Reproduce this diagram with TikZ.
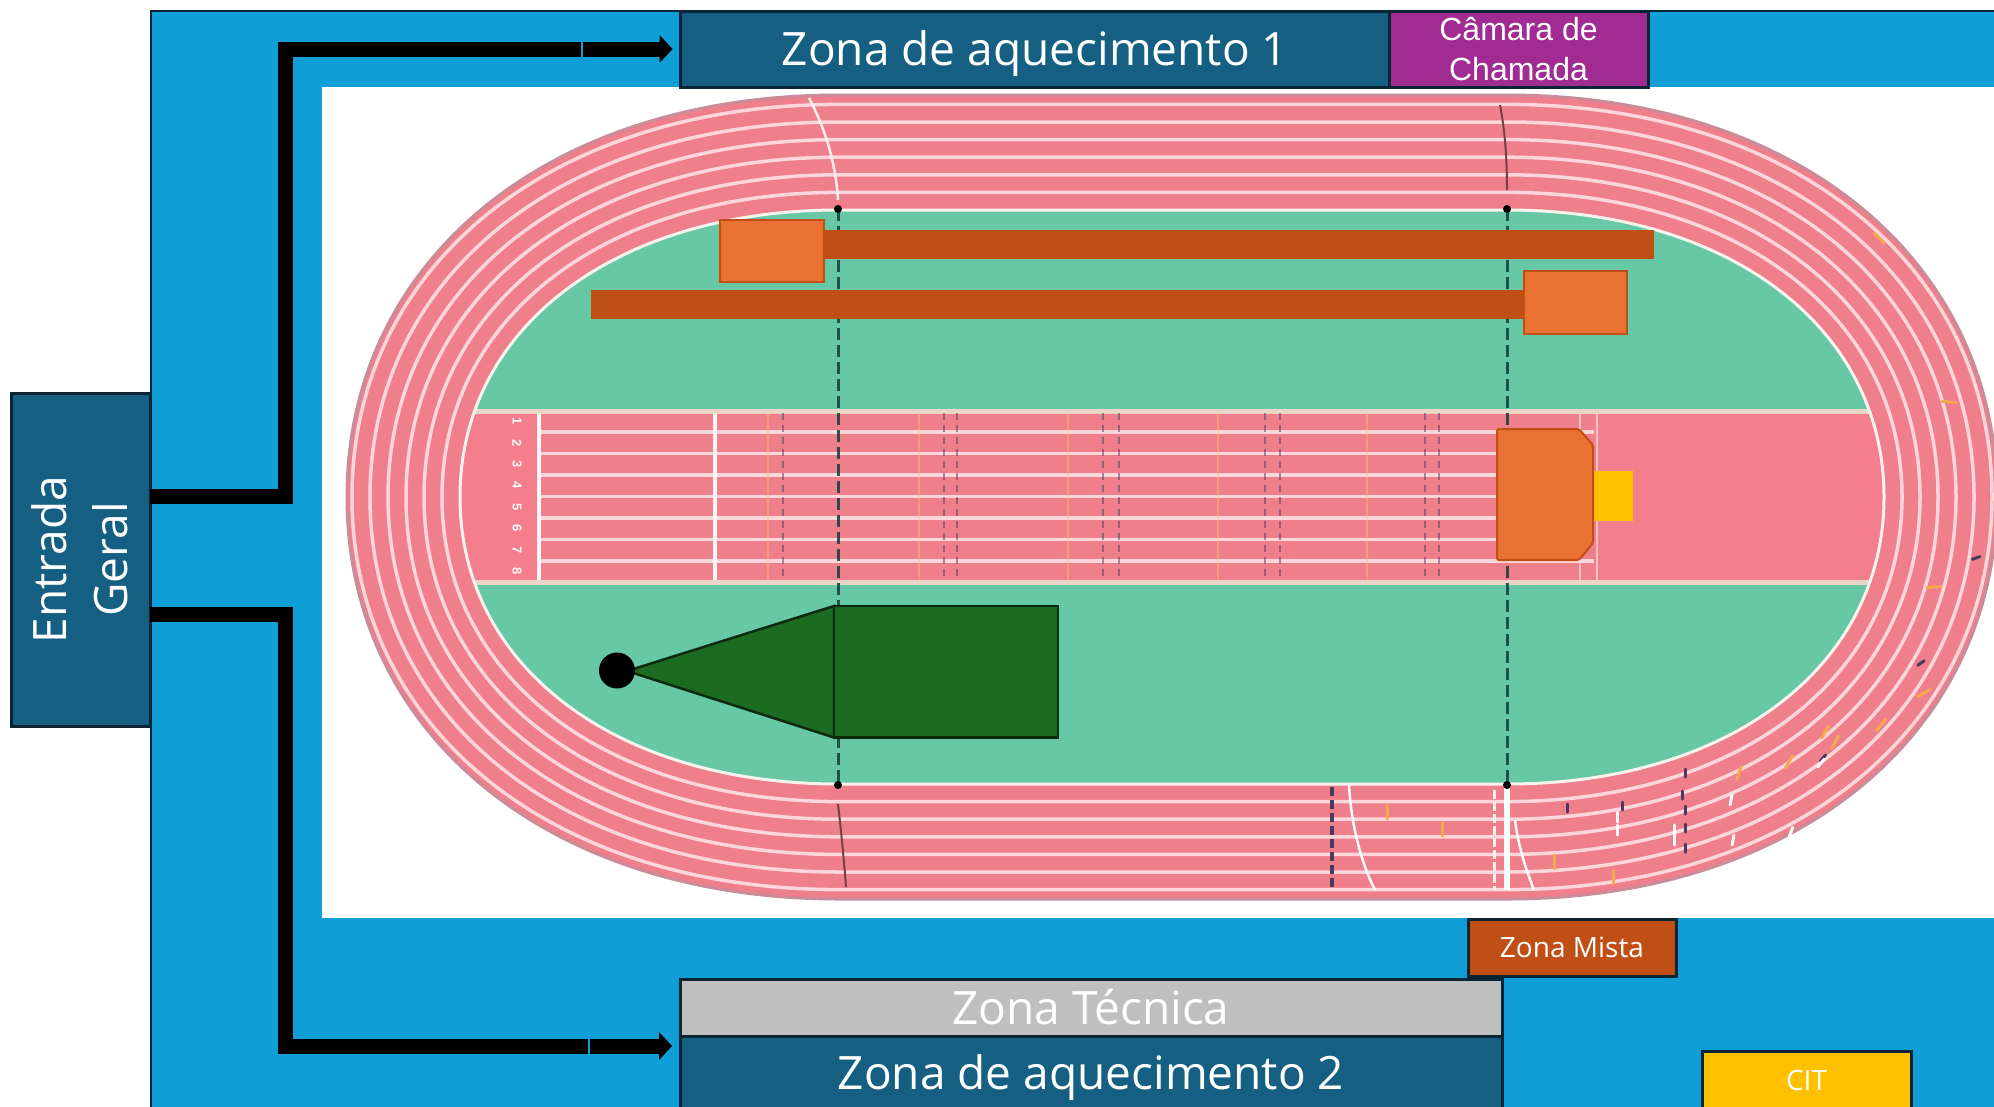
\documentclass[tikz,border=0pt]{standalone}
\usepackage{fontspec}
\setmainfont{Open Sans}
\newfontfamily\arialfont{Liberation Sans}
\usetikzlibrary{arrows.meta}
\newcommand{\trackpath}[2]{(839,{-497+(#2)}) -- (1507,{-497+(#2)})
  .. controls ({1507+.59*((#1)-2)},{-497+(#2)}) and ({1505+(#1)},{-497+.59*(#2)}) .. ({1505+(#1)},-497)
  .. controls ({1505+(#1)},{-497-.59*(#2)}) and ({1507+.59*((#1)-2)},{-497-(#2)}) .. (1507,{-497-(#2)})
  -- (839,{-497-(#2)})
  .. controls ({839-.59*(#1)},{-497-(#2)}) and ({839-(#1)},{-497-.59*(#2)}) .. ({839-(#1)},-497)
  .. controls ({839-(#1)},{-497+.59*(#2)}) and ({839-.59*(#1)},{-497+(#2)}) .. (839,{-497+(#2)}) -- cycle}
\tikzset{
  zonebox/.style={draw=zoneline, line width=3pt, text=white, outer sep=0pt, inner sep=0pt, align=center},
  zonetext/.style={text height=40pt, text depth=8pt, font=\fontsize{46}{54}\selectfont},
  pipe/.style={draw=black, line width=15pt},
  pipetip/.style={draw=black, line width=15pt, -{Triangle[length=13pt,width=28pt,line width=0pt]}, shorten >=8pt},
  laneline/.style={draw=laneline, line width=3.5pt},
  finishmark/.style={draw=markdark, line width=2.5pt, dash pattern=on 7pt off 5pt, opacity=.5},
  splitmark/.style={draw=splitorange, line width=2.5pt, opacity=.4},
  centremark/.style={draw=centreline, line width=3pt, dash pattern=on 12pt off 5pt, opacity=.85},
  blockbox/.style={fill=blockorange, draw=barorange, line width=2pt},
  barbox/.style={fill=barorange, draw=barorange, line width=1pt},
  fieldbox/.style={fill=fieldgreen, draw=fieldgreen!40!black, line width=2.5pt},
  tick/.style={line width=3pt, line cap=round}
}
\begin{document}
\begin{tikzpicture}[x=1pt,y=1pt]
\definecolor{zoneline}{HTML}{0A2433}
\definecolor{venueblue}{HTML}{0F9ED5}
\definecolor{zoneteal}{HTML}{156082}
\definecolor{trackpink}{HTML}{EE7F8B}
\definecolor{bandpink}{HTML}{F47E8C}
\definecolor{laneline}{HTML}{FCD6D8}
\definecolor{trackedge}{HTML}{C98C98}
\definecolor{grassgreen}{HTML}{66C8A5}
\definecolor{bandedge}{HTML}{EAD6C6}
\definecolor{markdark}{HTML}{4A3A60}
\definecolor{splitorange}{HTML}{F9C56A}
\definecolor{centreline}{HTML}{0C3F3C}
\definecolor{blockorange}{HTML}{E97132}
\definecolor{barorange}{HTML}{C04F15}
\definecolor{fieldgreen}{HTML}{1B6B22}
\definecolor{yellowbox}{HTML}{FFC000}
\definecolor{purplebox}{HTML}{A02B93}
\definecolor{grayzone}{HTML}{BFBFBF}
\definecolor{tickorange}{HTML}{F5A94E}
\useasboundingbox (0,-1106) rectangle (1994,0);
\fill[white] (0,-1106) rectangle (1994,0);
\fill[venueblue, draw=zoneline, line width=2.5pt] (151,-1108) -- (151,-11) -- (1996,-11) -- (1996,-1108) -- cycle;
\fill[white] (321.5,-918) rectangle (1996,-86.5);
\begin{scope}
\clip (321.5,-918) rectangle (1994,-86.5);
\fill[trackpink, draw=trackedge, line width=3pt] \trackpath{492}{402};
\foreach \k in {1,...,6}
  \draw[laneline] \trackpath{379+18*\k}{287+17.6*\k};
\fill[grassgreen] \trackpath{379}{287};
\begin{scope}
\clip \trackpath{379}{287};
\fill[bandpink] (460,-411) rectangle (1890,-582);
\fill[trackpink] (539,-411) rectangle (1594,-582);
\foreach \y in {432,453.5,475,496.5,518,539.5,561}
  \draw[laneline] (539,-\y) -- (1594,-\y);
\draw[line width=5pt, draw=bandedge] (460,-411) -- (1890,-411) (460,-582) -- (1890,-582);
\end{scope}
\draw[draw=white!70!bandedge, line width=3pt] \trackpath{379}{287};
\end{scope}
\draw[white!80!laneline, line width=4pt] (539,-413) -- (539,-580);
\draw[white!80!laneline, line width=4pt] (715,-413) -- (715,-580);
\foreach \d [count=\i] in {1,...,8}
  \node[text=white!80!laneline, font=\arialfont\bfseries\fontsize{13}{13}\selectfont, rotate=-90, inner sep=0pt] (lane\d) at (517,{-400-21.4*\i}) {\d};
\foreach \x in {768,919,1068,1218,1367}
  \draw[splitmark] (\x,-413) -- (\x,-580);
\foreach \x in {783,944,957,1103,1119,1265,1280,1425,1439}
  \draw[finishmark] (\x,-413) -- (\x,-580);
\draw[laneline, line width=2pt, draw opacity=.8] (1580,-413) -- (1580,-580) (1597,-413) -- (1597,-580);
\draw[white!60!laneline, line width=2.5pt] (809,-98) .. controls (826,-130) and (836,-165) .. (838,-200);
\draw[black!50!trackpink, line width=2pt] (1500,-105) .. controls (1505,-130) and (1507,-160) .. (1507,-190);
\draw[black!50!trackpink, line width=2pt] (838,-804) .. controls (841,-830) and (844,-860) .. (846,-887);
\draw[markdark, line width=3.5pt, dash pattern=on 9pt off 4pt] (1332,-787) -- (1332,-888);
\draw[white!90!laneline, line width=2.5pt] (1349,-785) .. controls (1351,-825) and (1362,-865) .. (1375,-890);
\draw[white!90!laneline, line width=2.5pt] (1515,-820) .. controls (1518,-845) and (1526,-870) .. (1534,-890);
\draw[white, line width=6pt] (1507,-787) -- (1507,-890);
\draw[white!60!laneline, line width=3pt, dash pattern=on 9pt off 3pt] (1494,-790) -- (1494,-890);
\foreach \x/\y/\a in {1387/812/90,1442/829/90,1554/862/90,1613/877/90,1739/773/70,1789/762/60,1825/732/60,1835/742/60,1881/725/50,1879/238/-45,1949/402/-5,1934/587/5,1924/693/30}
  \draw[tick, tickorange] (\x,-\y) ++(\a:7) -- ++(\a+180:14);
\foreach \x/\y/\a in {1685/773/90,1682/795/90,1567/808/90,1622/806/90,1685/810/90,1685/828/90,1685/848/90,1823/758/50,1976/558/20,1921/663/35}
  \draw[tick, markdark] (\x,-\y) ++(\a:4) -- ++(\a+180:8);
\foreach \x/\y/\a in {1617/817/90,1617/830/90,1674/830/90,1674/840/90,1731/800/80,1733/840/80,1791/832/70,1821/763/50}
  \draw[tick, white!90!laneline] (\x,-\y) ++(\a:5) -- ++(\a+180:10);
\draw[centremark] (838,-209) -- (838,-785);
\draw[centremark] (1507,-209) -- (1507,-785);
\foreach \x/\y [count=\i] in {838/209,1507/209,838/785,1507/785}
  \fill[black] (\x,-\y) circle (4);
\fill[barbox] (824,-230) rectangle (1653,-258);
\fill[blockbox] (720,-220) rectangle (824,-282);
\fill[barbox] (591,-290) rectangle (1523,-318.5);
\fill[blockbox] (1523.5,-271) rectangle (1627,-334);
\fill[yellowbox] (1594,-471) rectangle (1633,-521);
\draw[blockbox, rounded corners=2pt] (1497,-429) -- (1579,-429) -- (1593,-445) -- (1593,-543) -- (1579,-560) -- (1497,-560) -- cycle;
\draw[fieldbox] (834,-606) -- (627,-671) -- (834,-737.5) -- cycle;
\draw[fieldbox] (834,-606) rectangle (1058,-737.5);
\fill[black] (617,-670.5) circle (18);
\node[zonebox, fill=zoneteal, minimum width=139pt, minimum height=333pt, font=\fontsize{46}{61}\selectfont] (entrada) at (80.5,-559.5) {\hspace*{8pt}\rotatebox{90}{\begin{tabular}{@{}c@{}}Entrada\\ Geral\end{tabular}}};
\node[zonebox, zonetext, fill=zoneteal, minimum width=709pt, minimum height=76pt] (zonaum) at (1035,-49) {Zona de aquecimento 1};
\node[zonebox, fill=purplebox, minimum width=259pt, minimum height=76pt, font=\arialfont\fontsize{32}{40}\selectfont] (camara) at (1518.5,-49) {Câmara de\\Chamada};
\node[zonebox, fill=barorange, minimum width=208pt, minimum height=57pt, font=\fontsize{28}{34}\selectfont] (mista) at (1572,-947.5) {Zona Mista};
\node[zonebox, zonetext, fill=grayzone, minimum width=822pt, minimum height=57pt] (tecnica) at (1091,-1008) {Zona Técnica};
\node[zonebox, zonetext, fill=zoneteal, minimum width=822pt, minimum height=74pt] (zonadois) at (1091,-1073) {Zona de aquecimento 2};
\node[zonebox, fill=yellowbox, minimum width=209pt, minimum height=58pt, font=\fontsize{28}{34}\selectfont] (cit) at (1806.5,-1080) {CIT};
\coordinate (exitup) at (entrada.east |- 0,-496);
\coordinate (exitdown) at (entrada.east |- 0,-614.5);
\coordinate (railup) at (285.5,-270);
\coordinate (raildown) at (285.5,-830);
\coordinate (tailup) at (583,-49);
\coordinate (taildown) at (590,-1046);
\coordinate (tipdown) at (zonadois.west |- taildown);
\draw[pipe] (exitup) -| (railup) |- (581,-49);
\draw[pipetip] (tailup) -- (zonaum.west);
\draw[pipe] (exitdown) -| (raildown) |- (588,-1046);
\draw[pipetip] (taildown) -- (tipdown);
\end{tikzpicture}
\end{document}
